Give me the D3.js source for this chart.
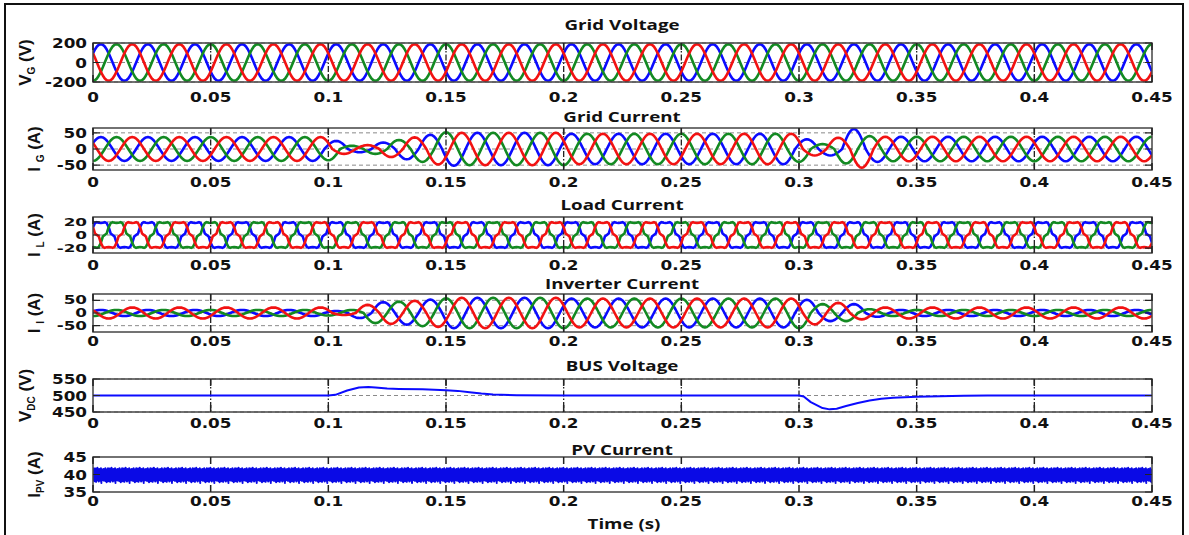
<!DOCTYPE html>
<html>
<head>
<meta charset="utf-8">
<script src="https://cdn.jsdelivr.net/npm/d3@7"></script>
<style>
  body { margin: 0; background: #fff; }
  svg { display: block; }
</style>
</head>
<body>
<svg id="chart" width="1189" height="535"></svg>
<script>
const svg = d3.select("#chart");

// ---- data ----
const timeTicks = [0, 0.05, 0.1, 0.15, 0.2, 0.25, 0.3, 0.35, 0.4, 0.45];
const timeTickLabels = ["0","0.05","0.1","0.15","0.2","0.25","0.3","0.35","0.4","0.45"];

// phase order: blue, green, red (drawn in this order)
const phaseColors = ["#0b0bff", "#138a22", "#f21212"];
const phaseOffsets = [2, 18, 10];          // in samples of 15 deg : +30, -90, +150 deg
const samplesPerCycle = 24;                 // 20 ms cycle
const sampleStep = 0.02 / 24;
const sampleCount = 541;                    // 0 .. 0.45 s

// one normalised cycle of each waveform shape
const sineCycle = [0,0.26,0.5,0.71,0.87,0.97,1,0.97,0.87,0.71,0.5,0.26,
                   0,-0.26,-0.5,-0.71,-0.87,-0.97,-1,-0.97,-0.87,-0.71,-0.5,-0.26];
const loadCycle = [0,0.12,0.6,0.9,0.98,0.94,0.92,0.94,0.98,0.9,0.6,0.12,
                   0,-0.12,-0.6,-0.9,-0.98,-0.94,-0.92,-0.94,-0.98,-0.9,-0.6,-0.12];

// peak value of every half cycle, per phase (blue, green, red)
const vgPeak = [188, 188, 188];
const ilPeak = [20, 20, 20];

const igBlue  = [37,37,37,37,37,37,37,37,37,37,25,10,20,32,44,52,50,50,50,50,
                 47,47,47,47,47,47,47,47,47,47,30,20,62,40,38,38,38,38,38,38,38,38,38,38,38,38,38];
const igGreen = [37,37,37,37,37,37,37,37,37,37,37,35,10,15,28,40,52,50,50,50,
                 50,50,47,47,47,47,47,47,47,47,47,40,15,45,40,38,38,38,38,38,38,38,38,38,38,38,38];
const igRed   = [37,37,37,37,37,37,37,37,37,37,37,15,12,25,36,48,50,50,50,50,
                 50,47,47,47,47,47,47,47,47,47,47,20,35,58,38,38,38,38,38,38,38,38,38,38,38,38,38];

const iiBlue  = [12,12,12,12,12,12,12,12,12,12,8,20,43,46,53,60,60,60,60,60,
                 57,57,57,57,57,57,57,57,57,57,52,32,35,15,12,12,12,12,12,12,12,12,12,12,12,12,12];
const iiGreen = [12,12,12,12,12,12,12,12,12,12,12,10,12,40,45,52,58,60,60,60,
                 60,60,57,57,57,57,57,57,57,57,57,60,35,32,15,12,12,12,12,12,12,12,12,12,12,12,12];
const iiRed   = [22,22,22,22,22,22,22,22,22,22,22,8,32,43,48,55,60,60,60,60,
                 60,57,57,57,57,57,57,57,57,57,57,45,40,25,22,22,22,22,22,22,22,22,22,22,22,22,22];

// DC bus voltage (time, volts)
const busTime  = [0,0.1,0.103,0.108,0.113,0.117,0.12,0.125,0.13,0.14,0.15,0.155,0.16,0.165,0.17,0.18,0.2,
                  0.3,0.302,0.305,0.31,0.313,0.316,0.32,0.325,0.33,0.335,0.34,0.35,0.36,0.37,0.38,0.45];
const busVolts = [500,500,502,515,524,526,524,521,520,519,516,514,510,506,503,501,500,
                  500,497,480,462,458,460,468,477,485,490,493,496,498,499,500,500];

// PV current ripple pattern (A), repeated along the record
const pvRipple = [41.5,38.4,41.8,38.1,41.2,38.6,41.7,37.9,41.4,38.3,41.9,38.5,
                  41.3,38.0,41.6,38.7,41.1,38.2,41.8,37.6,41.5,38.4,41.0,38.6,
                  41.6,38.2,41.3,38.5,41.8,38.1,41.4,37.8];
const pvStep = 0.45 / 2400;

// tick values per panel
const vgTicks = [-200, 0, 200];
const igTicks = [-50, 0, 50];
const ilTicks = [-20, 0, 20];
const iiTicks = [-50, 0, 50];
const busTicks = [450, 500, 550];
const pvTicks = [35, 40, 45];

// ---- layout ----
const x0 = 93, x1 = 1152;
const x = d3.scaleLinear().domain([0, 0.45]).range([x0, x1]);

const panels = [
  {title:"Grid Voltage",     titleY:25,  top:43,  bottom:82,  domain:[-200,200],   ticks:vgTicks,  lab:["V","G"," (V)"],  labX:31, tickDy:15, grid:true,  fs:14},
  {title:"Grid Current",     titleY:117, top:128, bottom:170, domain:[-65,65],     ticks:igTicks,  lab:["I ","G"," (A)"], labX:40, tickDy:12, grid:true,  fs:14},
  {title:"Load Current",     titleY:205, top:217, bottom:253, domain:[-27.5,27.5], ticks:ilTicks,  lab:["I ","L"," (A)"], labX:40, tickDy:12, grid:true,  fs:11},
  {title:"Inverter Current", titleY:284, top:294, bottom:332, domain:[-75,75],     ticks:iiTicks,  lab:["I ","I"," (A)"], labX:40, tickDy:9,  grid:true,  fs:11.5},
  {title:"BUS Voltage",      titleY:366, top:379, bottom:412, domain:[450,550],    ticks:busTicks, lab:["V","DC"," (V)"], labX:31, tickDy:11, grid:true,  fs:14},
  {title:"PV Current",       titleY:450, top:457, bottom:492, domain:[35,45],      ticks:pvTicks,  lab:["I","PV"," (A)"], labX:40, tickDy:9,  grid:false, fs:14}
];

function buildWave(cycle, offset, peaks) {
  return d3.range(sampleCount).map(k => {
    const j = k + offset;
    const a = Array.isArray(peaks) ? peaks[Math.floor(j / 12)] : peaks;
    return {t: k * sampleStep, v: a * cycle[j % samplesPerCycle]};
  });
}

const series = [
  [0,1,2].map(p => buildWave(sineCycle, phaseOffsets[p], vgPeak[p])),
  [igBlue, igGreen, igRed].map((a, p) => buildWave(sineCycle, phaseOffsets[p], a)),
  [0,1,2].map(p => buildWave(loadCycle, phaseOffsets[p], ilPeak[p])),
  [iiBlue, iiGreen, iiRed].map((a, p) => buildWave(sineCycle, phaseOffsets[p], a)),
  [busTime.map((t, i) => ({t: t, v: busVolts[i]}))],
  [d3.range(2401).map(k => ({t: k * pvStep, v: pvRipple[k % pvRipple.length]}))]
];

// outer frame
svg.append("rect").attr("x", 5).attr("y", 4).attr("width", 1178).attr("height", 540)
  .attr("fill", "none").attr("stroke", "#111").attr("stroke-width", 2);

const defs = svg.append("defs");

panels.forEach((pn, i) => {
  const y = d3.scaleLinear().domain(pn.domain).range([pn.bottom, pn.top]);
  const g = svg.append("g");

  defs.append("clipPath").attr("id", "clip" + i)
    .append("rect").attr("x", x0).attr("y", pn.top).attr("width", x1 - x0).attr("height", pn.bottom - pn.top);

  // grid
  if (pn.grid) {
    g.selectAll(".hg").data(pn.ticks).enter().append("line")
      .attr("x1", x0).attr("x2", x1).attr("y1", d => y(d)).attr("y2", d => y(d))
      .attr("stroke", "#8a8a8a").attr("stroke-width", 1).attr("stroke-dasharray", "4,3");
    g.selectAll(".vg").data(timeTicks.slice(1, -1)).enter().append("line")
      .attr("x1", d => x(d)).attr("x2", d => x(d)).attr("y1", pn.top).attr("y2", pn.bottom)
      .attr("stroke", "#222").attr("stroke-width", 1.3).attr("stroke-dasharray", "6,2,1.5,2");
  }

  // signals
  const line = d3.line().x(d => x(d.t)).y(d => y(d.v));
  const colors = i < 4 ? phaseColors : ["#0b0bff"];
  const width = i < 4 ? 2.6 : (i === 4 ? 2 : 2);
  g.append("g").attr("clip-path", `url(#clip${i})`)
    .selectAll("path").data(series[i]).enter().append("path")
      .attr("d", line)
      .attr("fill", "none")
      .attr("stroke", (d, k) => i === 5 ? "#0a0ae6" : colors[k])
      .attr("stroke-width", width)
      .attr("stroke-linejoin", "round");

  // box and ticks
  g.append("rect").attr("x", x0).attr("y", pn.top).attr("width", x1 - x0).attr("height", pn.bottom - pn.top)
    .attr("fill", "none").attr("stroke", "#444").attr("stroke-width", 1.5);
  g.selectAll(".xt").data(timeTicks).enter().append("path")
    .attr("d", d => `M${x(d)},${pn.bottom}v-7M${x(d)},${pn.top}v7`)
    .attr("stroke", "#222").attr("stroke-width", 1.5);
  g.selectAll(".yt").data(pn.ticks).enter().append("path")
    .attr("d", d => `M${x0},${y(d)}h7M${x1},${y(d)}h-7`)
    .attr("stroke", "#222").attr("stroke-width", 1.2);

  // tick labels
  g.selectAll(".xl").data(timeTicks).enter().append("text")
    .attr("transform", d => `translate(${x(d)},${pn.bottom + pn.tickDy + 5}) scale(1.2,1)`)
    .attr("text-anchor", "middle")
    .style("font", "bold 14px 'DejaVu Sans'").attr("fill", "#111")
    .text((d, k) => timeTickLabels[k]);
  g.selectAll(".yl").data(pn.ticks).enter().append("text")
    .attr("transform", d => `translate(87,${y(d) + pn.fs * 0.36}) scale(${14 * 1.2 / pn.fs},1)`)
    .attr("text-anchor", "end")
    .style("font", `bold ${pn.fs}px 'DejaVu Sans'`).attr("fill", "#111")
    .text(d => d);

  // title
  g.append("text")
    .attr("transform", `translate(622,${pn.titleY + 5}) scale(1.25,1)`)
    .attr("text-anchor", "middle")
    .style("font", "bold 15px 'Open Sans'").attr("fill", "#111")
    .text(pn.title);

  // y label
  const yl = g.append("text")
    .attr("transform", `translate(${pn.labX},${(pn.top + pn.bottom) / 2}) rotate(-90)`)
    .attr("text-anchor", "middle")
    .style("font", "bold 17px 'Liberation Sans'").attr("fill", "#111");
  yl.append("tspan").text(pn.lab[0]);
  yl.append("tspan").attr("dy", 4).style("font-size", "10px").text(pn.lab[1]);
  yl.append("tspan").attr("dy", -4).text(pn.lab[2]);
});

svg.append("text")
  .attr("transform", "translate(624,529) scale(1.25,1)")
  .attr("text-anchor", "middle")
  .style("font", "bold 15px 'Open Sans'").attr("fill", "#111")
  .text("Time (s)");
</script>
</body>
</html>
